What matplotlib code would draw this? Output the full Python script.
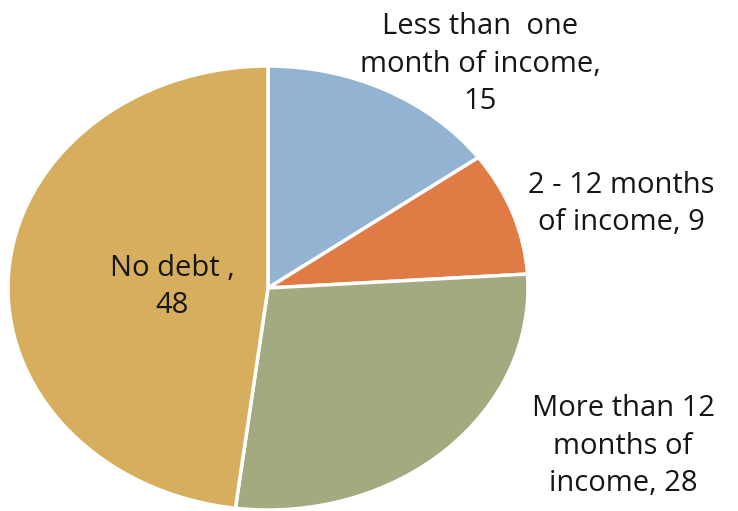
import matplotlib as mpl
mpl.use('Agg')
import matplotlib.pyplot as plt

categories = ['Less than  one\nmonth of income,\n15',
              '2 - 12 months\nof income, 9',
              'More than 12\nmonths of\nincome, 28',
              'No debt ,\n48']
values = [15, 9, 28, 48]
colors = ['#93B3D3', '#E07B45', '#A3AA80', '#D6AE5E']

W, H = 738, 511
fig = plt.figure(figsize=(W / 100, H / 100), dpi=100)

# pie drawn into an axes box that is wider than tall -> slightly squashed ellipse
cx, cy, rx, ry = 268, 288, 260, 222
ax = fig.add_axes([(cx - rx) / W, (H - cy - ry) / H, 2 * rx / W, 2 * ry / H])
ax.pie(values, colors=colors, startangle=90, counterclock=False,
       wedgeprops=dict(edgecolor='white', linewidth=2.5))
ax.set_aspect('auto')
ax.set_xlim(-1, 1)
ax.set_ylim(-1, 1)
ax.axis('off')

# label positions (pixels from top-left)
label_pos = [(480, 64), (621, 204), (623, 446), (172, 287)]
for text, (x, y) in zip(categories, label_pos):
    fig.text(x / W, 1 - y / H, text, ha='center', va='center',
             fontsize=21, family='Open Sans', color='#161616',
             linespacing=1.4)

fig.savefig('out.png', dpi=100)
